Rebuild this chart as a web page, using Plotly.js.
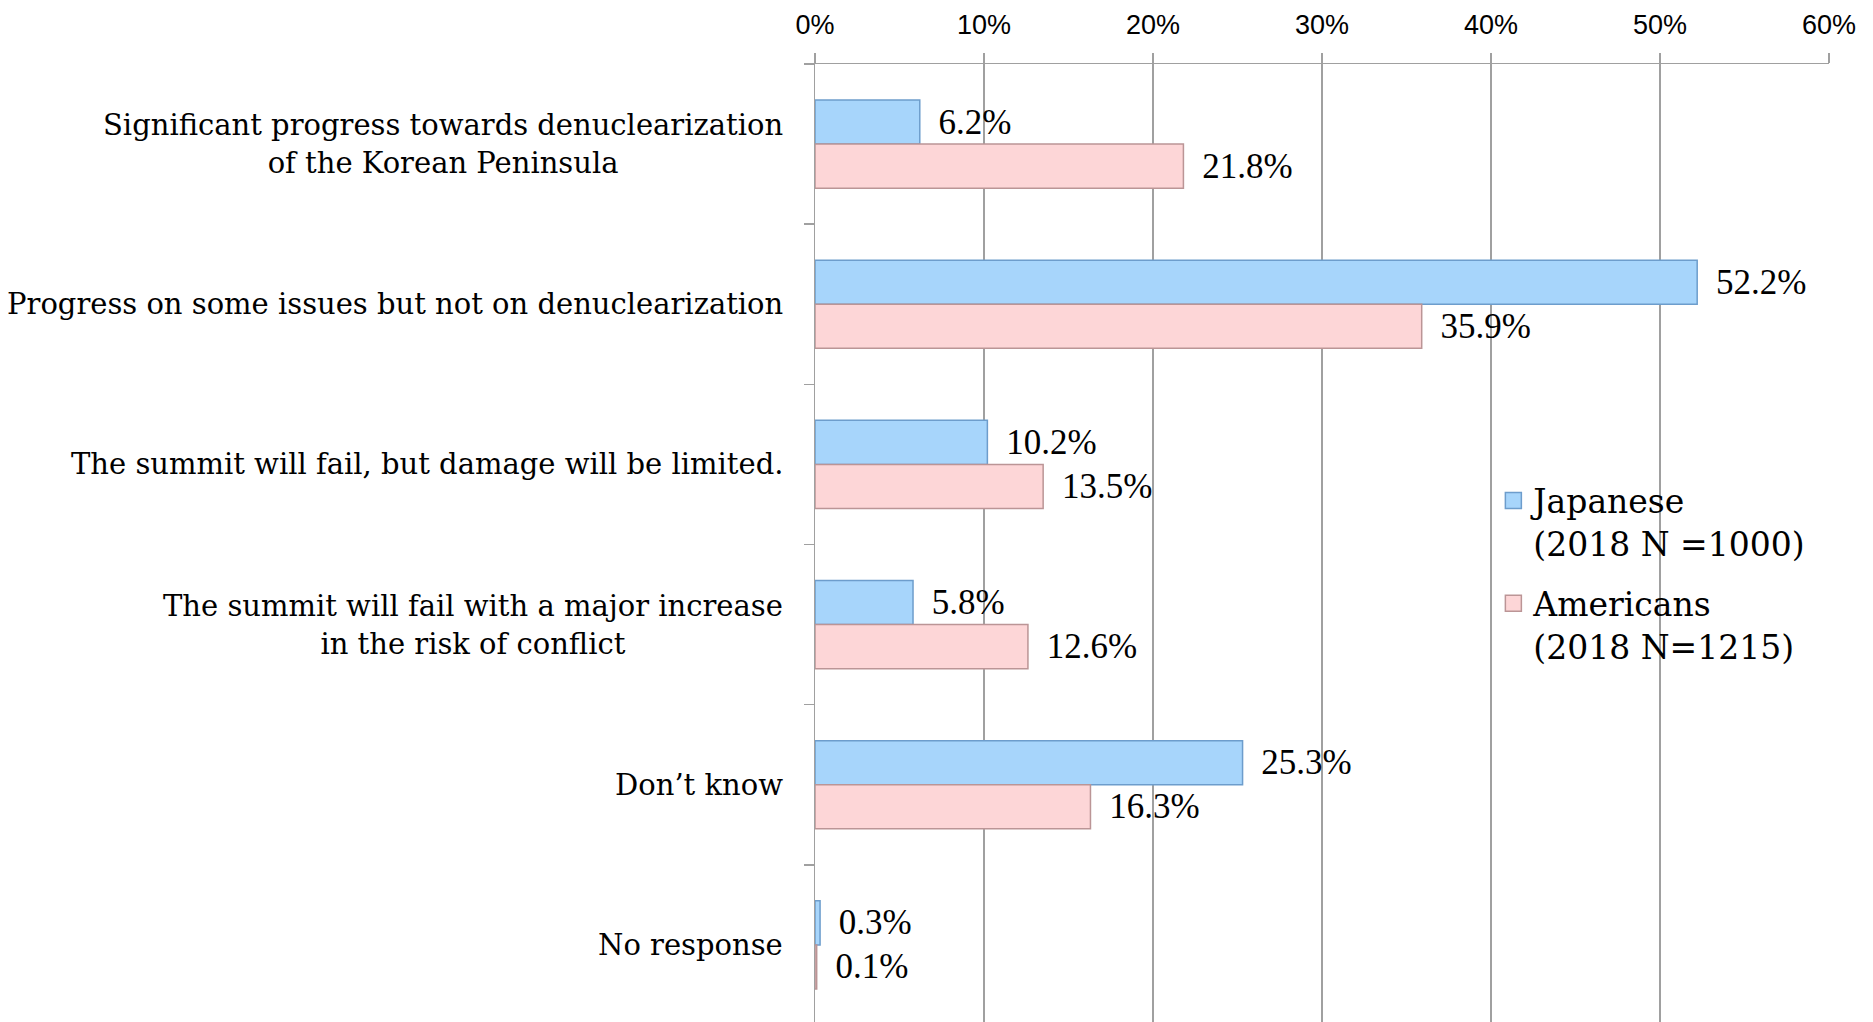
<!DOCTYPE html>
<html>
<head>
<meta charset="utf-8">
<script src="https://cdn.plot.ly/plotly-3.0.1.min.js"></script>
<style>
html,body{margin:0;padding:0;overflow:hidden;background:#fff;}
#chart{width:1873px;height:1030px;}
</style>
</head>
<body>
<div id="chart"></div>
<script>
const categories = [
  "Significant progress towards denuclearization<br>of the Korean Peninsula",
  "Progress on some issues but not on denuclearization",
  "The summit will fail, but damage will be limited.",
  "The summit will fail with a major increase<br>in the risk of conflict",
  "Don\u2019t know",
  "No response"
];
const japanese = [6.2, 52.2, 10.2, 5.8, 25.3, 0.3];
const americans = [21.8, 35.9, 13.5, 12.6, 16.3, 0.1];
const seriesNames = ["Japanese<br>(2018 N =1000)", "Americans<br>(2018 N=1215)"];
const xTickVals = [0, 10, 20, 30, 40, 50, 60];
const xTickText = ["0%", "10%", "20%", "30%", "40%", "50%", "60%"];

const labelFont = {family: "Liberation Serif, Times New Roman, serif", size: 35, color: "#000"};
const gridColor = "#a0a0a0";
const colors = [
  {fill: "#a7d5fb", border: "#6d9dcc"},
  {fill: "#fdd6d7", border: "#bb9596"}
];

function barTrace(vals, i) {
  return {
    type: "bar",
    orientation: "h",
    x: vals,
    y: categories,
    name: seriesNames[i],
    showlegend: false,
    marker: {color: colors[i].fill, line: {color: colors[i].border, width: 1.5}},
    text: vals.map(v => "\u00a0\u2009" + v.toFixed(1) + "%"),
    textposition: "outside",
    textfont: labelFont,
    constraintext: "none",
    cliponaxis: false,
    hoverinfo: "skip"
  };
}

function legendTrace(i) {
  return {
    type: "scatter", mode: "markers",
    x: [null], y: [null],
    name: seriesNames[i],
    legendgroup: "g" + i,
    showlegend: true,
    marker: {symbol: "square", size: 16, color: colors[i].fill, line: {color: colors[i].border, width: 1.5}},
    hoverinfo: "skip"
  };
}

const data = [
  barTrace(japanese, 0),
  barTrace(americans, 1),
  legendTrace(0),
  legendTrace(1)
];

const annotations = categories.map(c => ({
  xref: "paper", x: 0, xanchor: "right", xshift: -30,
  yref: "y", y: c, yanchor: "middle",
  text: c, align: "center", showarrow: false,
  font: {family: "DejaVu Serif, serif", size: 29, color: "#000"}
}));

const layout = {
  width: 1873, height: 1030,
  margin: {l: 815, r: 44, t: 64, b: 5},
  paper_bgcolor: "#fff", plot_bgcolor: "#fff",
  barmode: "group", bargap: 0.45, bargroupgap: 0,
  showlegend: true,
  legend: {
    x: 0.669, y: 0.575, xanchor: "left", yanchor: "top",
    valign: "top", itemsizing: "trace", tracegroupgap: 14,
    font: {family: "DejaVu Serif, serif", size: 33, color: "#000"},
    bgcolor: "rgba(0,0,0,0)", traceorder: "grouped"
  },
  xaxis: {
    side: "top", range: [0, 60], tickvals: xTickVals, ticktext: xTickText,
    showgrid: true, gridcolor: gridColor, gridwidth: 1.5,
    showline: true, linecolor: gridColor, linewidth: 1.5,
    ticks: "outside", ticklen: 10, tickcolor: gridColor, tickwidth: 1.5,
    ticklabelstandoff: 8,
    tickfont: {family: "Liberation Sans, Arial, sans-serif", size: 27, color: "#000"},
    zeroline: false, fixedrange: true
  },
  yaxis: {
    type: "category", autorange: "reversed",
    showticklabels: false,
    showline: true, linecolor: gridColor, linewidth: 1.5,
    ticks: "outside", ticklen: 10, tickcolor: gridColor, tickwidth: 1.5,
    tickson: "boundaries", showgrid: false, fixedrange: true
  },
  annotations: annotations
};

Plotly.newPlot("chart", data, layout, {displayModeBar: false, staticPlot: true});
</script>
</body>
</html>
